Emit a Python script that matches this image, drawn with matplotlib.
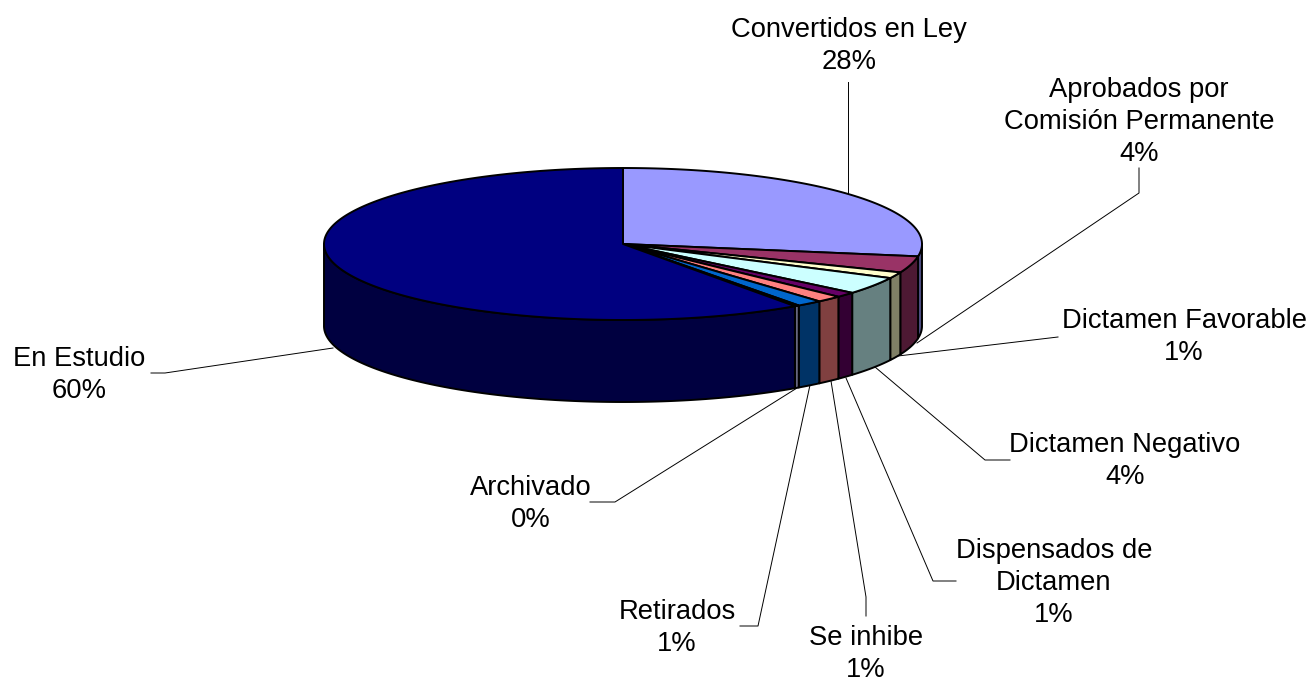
import numpy as np
import matplotlib
matplotlib.use("Agg")
import matplotlib.pyplot as plt

# --- Data ---
categories = ["Convertidos en Ley", "Aprobados por\nComisión Permanente", "Dictamen Favorable",
              "Dictamen Negativo", "Dispensados de\nDictamen", "Se inhibe", "Retirados",
              "Archivado", "En Estudio"]
values = [27.6, 3.5, 1.3, 3.7, 1.1, 1.4, 1.4, 0.25, 59.75]
top_colors = ["#9999FF", "#993366", "#FFFFCC", "#CCFFFF", "#660066",
              "#FF8080", "#0066CC", "#CCCCFF", "#000080"]
side_colors = ["#4D4D80", "#4D1933", "#808066", "#668080", "#330033",
               "#804040", "#003366", "#666680", "#000040"]

# --- Layout (pixels of the picture) ---
cx, cy, rx, ry, depth = 623, 244, 299, 76, 82
label_pos = [(849, 46), (1139, 122), (1184, 337), (1125, 461), (1054, 583),
             (866, 654), (677, 628), (531, 504), (79, 375)]
leaders = [[(848, 82), (848, 193)],
           [(1139, 168), (1139, 193), (917, 343)],
           [(1058, 337), (898, 356)],
           [(1010, 460), (985, 460), (875, 367)],
           [(956, 581), (933, 581), (846, 378)],
           [(866, 616), (866, 597), (831, 381)],
           [(740, 626), (758, 626), (810, 385)],
           [(590, 502), (615, 502), (797, 388)],
           [(151, 373), (165, 373), (333, 348)]]

plt.rcParams["font.family"] = ["Liberation Sans", "DejaVu Sans"]

fig = plt.figure(figsize=(13.12, 6.81), dpi=100)
ax = fig.add_axes([0, 0, 1, 1])
ax.set_xlim(0, 1312)
ax.set_ylim(681, 0)
ax.axis("off")


def rim(a, b, dy=0):
    t = np.radians(np.linspace(a, b, 200))
    return cx + rx * np.sin(t), cy + dy - ry * np.cos(t)


edges = np.concatenate([[0], np.cumsum(values)]) * 360 / sum(values)

# Walls first, only the front half of the rim is visible
for i in range(len(values)):
    a, b = max(edges[i], 90), min(edges[i + 1], 270)
    if a >= b:
        continue
    x, y = rim(a, b)
    ax.fill(np.r_[x, x[::-1]], np.r_[y, y[::-1] + depth], facecolor=side_colors[i],
            edgecolor="black", linewidth=1.4, joinstyle="round", zorder=2)

# Top faces
for i in range(len(values)):
    x, y = rim(edges[i], edges[i + 1])
    ax.fill(np.r_[cx, x], np.r_[cy, y], facecolor=top_colors[i],
            edgecolor="black", linewidth=1.4, joinstyle="round", zorder=3)

# Leader lines and labels
for pts in leaders:
    lx, ly = zip(*pts)
    ax.plot(lx, ly, color="black", linewidth=0.7, zorder=1)

for name, v, (tx, ty) in zip(categories, values, label_pos):
    ax.text(tx, ty, f"{name}\n{round(v)}%", ha="center", va="center",
            fontsize=19.7, linespacing=1.29, color="black", zorder=4)

plt.savefig("out.png", dpi=100)
